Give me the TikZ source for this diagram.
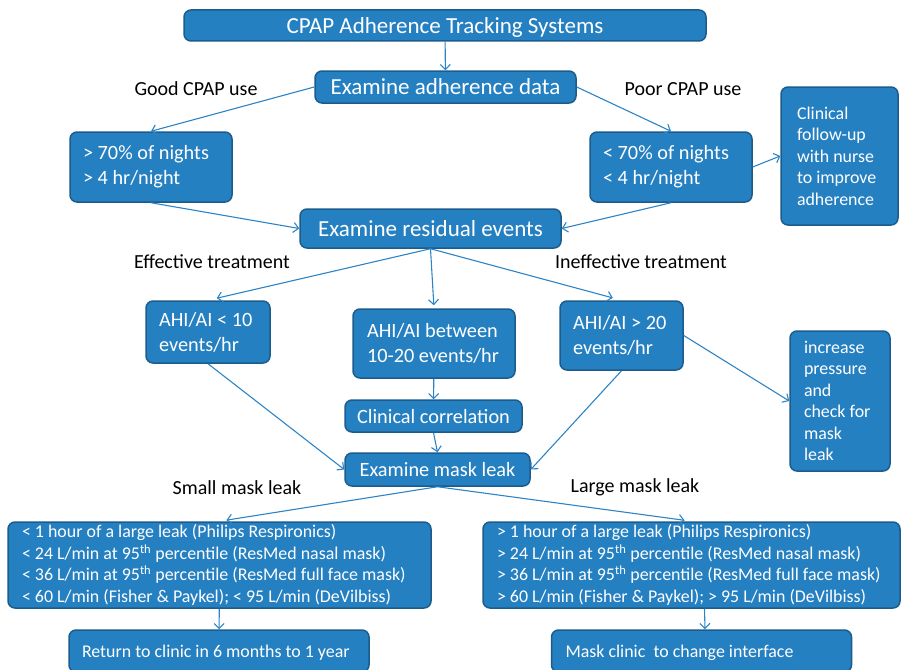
\documentclass[tikz,border=0pt]{standalone}
\usepackage{fontspec}
\setmainfont{Carlito}
\usetikzlibrary{arrows.meta}
\definecolor{boxfill}{RGB}{37,128,194}
\definecolor{boxline}{RGB}{28,92,140}
\definecolor{arrowblue}{RGB}{44,132,198}
\tikzset{
  flowbox/.style={draw=boxline, fill=boxfill, text=white, line width=1.5pt, rounded corners=7pt, inner sep=0pt, align=flush center},
  oneline/.style={text depth=0pt},
  bigtext/.style={font=\fontsize{23}{27}\selectfont},
  midtext/.style={font=\fontsize{20.3}{25}\selectfont},
  smalltext/.style={font=\fontsize{17.9}{21.5}\selectfont},
  branch/.style={font=\fontsize{20}{25}\selectfont, text=black},
  flow/.style={->, draw=arrowblue, line width=1.1pt},
  >={Straight Barb[length=5pt,width=10pt]}
}
\begin{document}
\begin{tikzpicture}[x=1pt,y=-1pt]
	\path[use as bounding box, clip] (0,0) rectangle (901,669);
	% boxes
	\node[flowbox, oneline, bigtext, minimum width=522, minimum height=31] (track) at (445,25.5) {CPAP Adherence Tracking Systems};
	\node[flowbox, oneline, bigtext, minimum width=261, minimum height=32] (adh) at (445.5,87) {Examine adherence data};
	\node[flowbox, midtext, align=flush left, text width=136, inner xsep=13, minimum height=70] (good) at (151,167) {> 70\% of nights\\> 4 hr/night};
	\node[flowbox, midtext, align=flush left, text width=136, inner xsep=13, minimum height=70] (poor) at (671,167) {< 70\% of nights\\< 4 hr/night};
	\node[flowbox, smalltext, align=flush left, text width=85, inner xsep=16, minimum height=138] (nurse) at (839.5,156) {Clinical\\follow-up\\with nurse\\to improve\\adherence};
	\node[flowbox, oneline, bigtext, minimum width=261, minimum height=39] (resid) at (430.5,228.5) {Examine residual events};
	\node[flowbox, midtext, align=flush left, text width=98, inner xsep=13, minimum height=62] (low) at (208,332) {AHI/AI < 10\\events/hr};
	\node[flowbox, midtext, align=flush left, text width=134, inner xsep=14, minimum height=69] (mid) at (434,343.5) {AHI/AI between\\10-20 events/hr};
	\node[flowbox, midtext, align=flush left, text width=97, inner xsep=13, minimum height=69] (high) at (621.5,335.5) {AHI/AI > 20\\events/hr};
	\node[flowbox, smalltext, align=flush left, text width=72, inner xsep=14, minimum height=140] (pressure) at (840,401) {increase\\pressure\\and\\check for\\mask\\leak};
	\node[flowbox, oneline, midtext, minimum width=177, minimum height=32] (corr) at (433.5,416) {Clinical correlation};
	\node[flowbox, oneline, midtext, minimum width=185, minimum height=33] (leak) at (437.5,469.5) {Examine mask leak};
	\node[flowbox, smalltext, align=flush left, text width=395, inner xsep=14, minimum height=86] (smallleak) at (219.5,565) {< 1 hour of a large leak (Philips Respironics)\\< 24 L/min at 95\textsuperscript{th} percentile (ResMed nasal mask)\\< 36 L/min at 95\textsuperscript{th} percentile (ResMed full face mask)\\< 60 L/min (Fisher \& Paykel); < 95 L/min (DeVilbiss)};
	\node[flowbox, smalltext, align=flush left, text width=389, inner xsep=14, minimum height=86] (largeleak) at (691.5,565) {> 1 hour of a large leak (Philips Respironics)\\> 24 L/min at 95\textsuperscript{th} percentile (ResMed nasal mask)\\> 36 L/min at 95\textsuperscript{th} percentile (ResMed full face mask)\\> 60 L/min (Fisher \& Paykel); > 95 L/min (DeVilbiss)};
	\node[flowbox, oneline, smalltext, align=flush left, text width=274, inner xsep=13, minimum height=42] (ret) at (219,651) {Return to clinic in 6 months to 1 year};
	\node[flowbox, oneline, smalltext, align=flush left, text width=272, inner xsep=14, minimum height=42] (mclinic) at (701.5,651) {Mask clinic\ \ to change interface};
	% branch labels
	\node[branch] (goodlbl) at (196,89) {Good CPAP use};
	\node[branch] (poorlbl) at (683,89) {Poor CPAP use};
	\node[branch] (efflbl) at (212,262) {Effective treatment};
	\node[branch] (inefflbl) at (641,262) {Ineffective treatment};
	\node[branch] (smalllbl) at (237,488) {Small mask leak};
	\node[branch] (largelbl) at (635,487) {Large mask leak};
	% connectors
	\draw[flow] (track) -- (adh);
	\draw[flow] (adh.west) -- (good.north);
	\draw[flow] (adh.east) -- (poor.north);
	\draw[flow] (good.south) -- (resid.west);
	\draw[flow] (poor.south) -- (resid.east);
	\draw[flow] (poor.east) -- (nurse.west);
	\draw[flow, shorten >=9] (resid.south) -- (low.north);
	\draw[flow, shorten >=3] (resid.south) -- (mid.north);
	\draw[flow, shorten >=9] (resid.south) -- (high.north);
	\draw[flow] (low.south) -- (leak.west);
	\draw[flow] (mid) -- (corr);
	\draw[flow] (corr.south) -- (leak.north);
	\draw[flow] (high.south) -- (leak.east);
	\draw[flow] (high.east) -- (pressure.west);
	\draw[flow, shorten >=7] (leak.south) -- (smallleak.north);
	\draw[flow, shorten >=7] (leak.south) -- (largeleak.north);
	\draw[flow] (smallleak) -- (ret);
	\draw[flow] ([xshift=13]largeleak.south) -- ([xshift=3.5]mclinic.north);
\end{tikzpicture}
\end{document}
